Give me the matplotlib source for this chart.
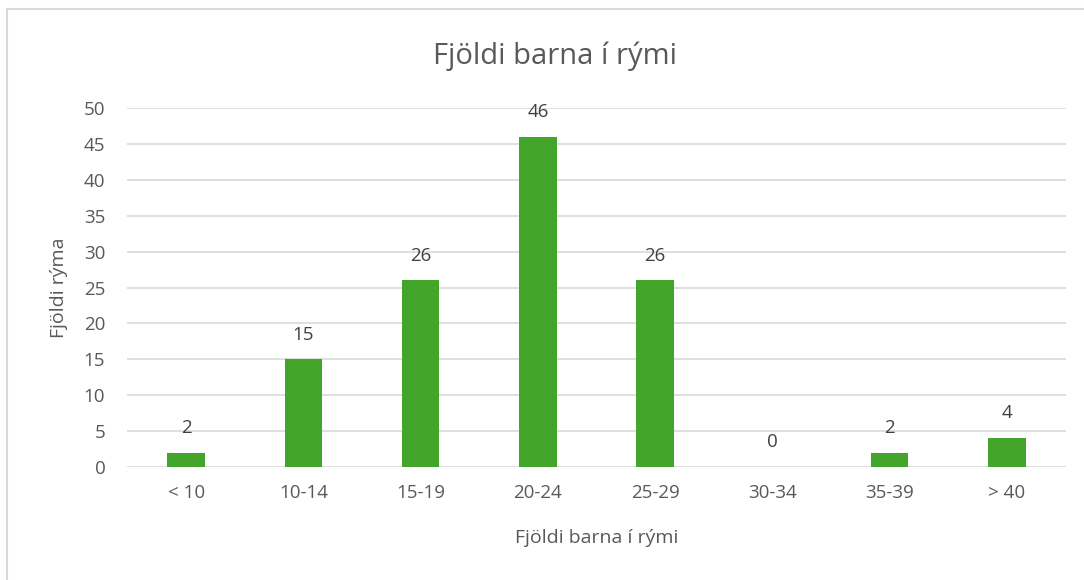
import matplotlib
matplotlib.use("Agg")
import matplotlib.pyplot as plt
from matplotlib.patches import Rectangle

plt.rcParams['font.family'] = ['Open Sans', 'DejaVu Sans']

categories = ['< 10', '10-14', '15-19', '20-24', '25-29', '30-34', '35-39', '> 40']
counts = [2, 15, 26, 46, 26, 0, 2, 4]
yticks = [0, 5, 10, 15, 20, 25, 30, 35, 40, 45, 50]

text_color = '#595959'
grid_color = '#d9d9d9'
bar_color = '#43a62b'

fig = plt.figure(figsize=(10.84, 5.8), dpi=100)
ax = fig.add_axes([0.1176, 0.1948, 0.8654, 0.619])

x = range(len(categories))
ax.bar(x, counts, width=0.32, color=bar_color, zorder=3)

for xi, v in zip(x, counts):
    ax.text(xi, v + 2.2, str(v), ha='center', va='bottom', fontsize=13.5, color='#404040')

ax.set_xlim(-0.5, len(categories) - 0.5)
ax.set_ylim(0, 50)
ax.set_yticks(yticks)
ax.set_xticks(list(x))
ax.set_xticklabels(categories)
ax.yaxis.grid(True, color=grid_color, linewidth=1.2, zorder=0)
ax.tick_params(axis='both', length=0, labelsize=13.5, labelcolor=text_color)
ax.tick_params(axis='x', pad=12)
ax.tick_params(axis='y', pad=16)
for s in ax.spines.values():
    s.set_visible(False)

ax.set_xlabel('Fjöldi barna í rými', fontsize=14, color=text_color, labelpad=20)
ax.set_ylabel('Fjöldi rýma', fontsize=14, color=text_color, labelpad=11)
fig.text(0.512, 0.903, 'Fjöldi barna í rými', ha='center', va='center', fontsize=21, color=text_color)

# chart frame
fig.patches.append(Rectangle((7 / 1084, -0.01), 1.02, (580 - 9) / 580 + 0.01, transform=fig.transFigure,
                             fill=False, edgecolor=grid_color, linewidth=1.5))

fig.savefig('out.png', dpi=100)
